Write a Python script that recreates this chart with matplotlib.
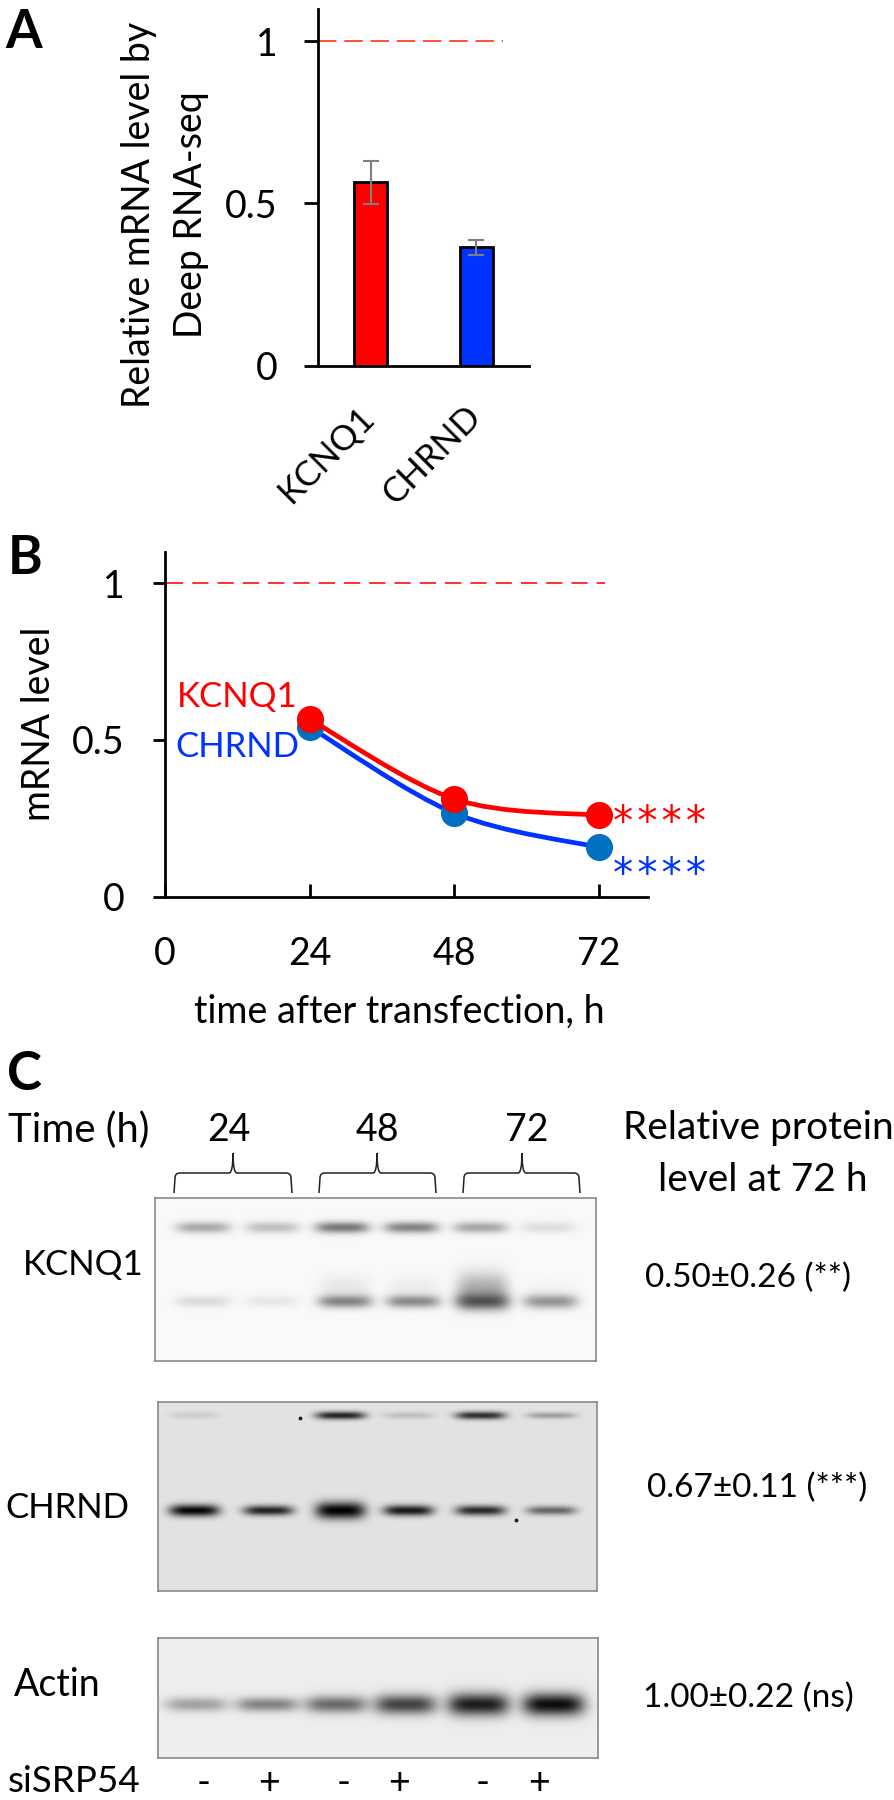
import matplotlib
matplotlib.use("Agg")
import matplotlib.pyplot as plt
import numpy as np
from matplotlib.patches import PathPatch
from matplotlib.path import Path

plt.rcParams["font.family"] = ["Lato", "DejaVu Sans"]

W, H = 895, 1800

# panel A
genes = ["KCNQ1", "CHRND"]
seq_values = [0.566, 0.366]
seq_err_low = [0.066, 0.023]
seq_err_high = [0.064, 0.022]
seq_colors = ["#ff0000", "#0033ff"]

# panel B
hours = [24, 48, 72]
kcnq1_mrna = [0.566, 0.312, 0.26]
chrnd_mrna = [0.541, 0.267, 0.158]

# panel C, band darkness per lane (0 = none, 1 = black)
time_groups = ["24", "48", "72"]
sirna = ["-", "+", "-", "+", "-", "+"]
protein_labels = ["0.50±0.26 (**)", "0.67±0.11 (***)", "1.00±0.22 (ns)"]
kcnq1_upper = [0.32, 0.23, 0.52, 0.47, 0.33, 0.11]
kcnq1_lower = [0.12, 0.07, 0.46, 0.44, 0.62, 0.40]
kcnq1_smear = [0.0, 0.0, 0.07, 0.05, 0.30, 0.02]
chrnd_main = [0.98, 0.85, 1.0, 0.9, 0.82, 0.55]
chrnd_upper = [0.10, 0.0, 0.85, 0.16, 0.80, 0.30]
actin_main = [0.32, 0.45, 0.55, 0.72, 0.88, 0.95]


def axes_px(left, top, right, bottom):
    return fig.add_axes([left / W, 1 - bottom / H, (right - left) / W, (bottom - top) / H])


def smooth_path(xs, ys):
    # same kind of smoothing Excel does on a line series
    pts = np.column_stack([xs, ys])
    verts = [pts[0]]
    codes = [Path.MOVETO]
    for i in range(len(pts) - 1):
        before = pts[max(i - 1, 0)]
        after = pts[min(i + 2, len(pts) - 1)]
        verts += [pts[i] + (pts[i + 1] - before) / 6, pts[i + 1] - (after - pts[i]) / 6, pts[i + 1]]
        codes += [Path.CURVE4, Path.CURVE4, Path.CURVE4]
    return Path(verts, codes)


def brace(ax, left, right, tip, y_tip=1153, y_mid=1173, y_end=1193):
    r = 5
    verts = [(left, y_end), (left + 1, y_mid + r),
             (left + 1, y_mid), (left + r + 1, y_mid),
             (tip - 4, y_mid),
             (tip, y_mid), (tip, y_tip),
             (tip, y_mid), (tip + 4, y_mid),
             (right - r - 1, y_mid),
             (right - 1, y_mid), (right - 1, y_mid + r),
             (right, y_end)]
    codes = [Path.MOVETO, Path.LINETO,
             Path.CURVE3, Path.CURVE3,
             Path.LINETO,
             Path.CURVE3, Path.CURVE3,
             Path.CURVE3, Path.CURVE3,
             Path.LINETO,
             Path.CURVE3, Path.CURVE3,
             Path.LINETO]
    ax.add_patch(PathPatch(Path(verts, codes), fc="none", ec="#222222", lw=1.1))


def band(xx, yy, cx, cy, width, sigma):
    return np.exp(-(np.abs(xx - cx) / (width / 2)) ** 4) * np.exp(-((yy - cy) ** 2) / (2 * sigma ** 2))


def draw_blot(box, background, rows, specks=()):
    left, top, right, bottom = box
    ax = axes_px(left, top, right, bottom)
    y, x = np.mgrid[top:bottom, left:right]
    img = np.full(x.shape, background, dtype=float)
    for levels, centers, width, cy, sigmas in rows:
        for lane, level in enumerate(levels):
            img *= 1 - level * band(x, y, centers[lane], cy, width, sigmas[lane])
    ax.imshow(img, cmap="gray", vmin=0, vmax=1, extent=(left, right, bottom, top), aspect="auto",
              interpolation="bilinear")
    for sx, sy in specks:
        ax.plot(sx, sy, "o", ms=1.8, color="#222222")
    ax.set_xlim(left, right)
    ax.set_ylim(bottom, top)
    ax.set_xticks([])
    ax.set_yticks([])
    for s in ax.spines.values():
        s.set_color("#808080")
        s.set_linewidth(1.1)
    return ax


fig = plt.figure(figsize=(W / 100, H / 100), dpi=100)

# overlay in pixel coordinates for the free text and braces
page = fig.add_axes([0, 0, 1, 1], zorder=5)
page.set_xlim(0, W)
page.set_ylim(H, 0)
page.axis("off")

# ---- A ----
ax_a = axes_px(318, 9, 529, 366)
ax_a.bar(range(2), seq_values, width=0.315, color=seq_colors, edgecolor="black", linewidth=2, zorder=2)
ax_a.errorbar(range(2), seq_values, yerr=[seq_err_low, seq_err_high], fmt="none", ecolor="#7f7f7f",
              elinewidth=1.5, capsize=5.8, capthick=1.5, zorder=3)
ax_a.plot([-0.5, 1.255], [1, 1], color="#ff5030", lw=1.4, dashes=(9.5, 4), zorder=1)
ax_a.set_xlim(-0.498, 1.5)
ax_a.set_ylim(0, 357 / 325)
ax_a.set_yticks([0, 0.5, 1], ["0", "0.5", "1"])
ax_a.set_xticks([])
ax_a.tick_params(axis="y", length=10, width=2, pad=19, labelsize=27)
ax_a.set_ylabel("Relative mRNA level by\nDeep RNA-seq", fontsize=27, linespacing=1.55, va="center", ha="center",
                multialignment="center")
ax_a.yaxis.set_label_coords((165 - 318) / 211, (366 - 215) / 357)
for s in ["top", "right"]:
    ax_a.spines[s].set_visible(False)
for s in ["left", "bottom"]:
    ax_a.spines[s].set_linewidth(2)
page.text(327, 455, genes[0], rotation=45, ha="center", va="center", fontsize=25, rotation_mode="anchor")
page.text(432, 455, genes[1], rotation=45, ha="center", va="center", fontsize=25, rotation_mode="anchor")

# ---- B ----
ax_b = axes_px(165, 552, 648, 897)
ax_b.plot([0.4, 73], [1, 1], color="#ff2020", lw=1.3, dashes=(9, 5), zorder=1)
ax_b.add_patch(PathPatch(smooth_path(hours, chrnd_mrna), fc="none", ec="#0033ff", lw=3.4, zorder=2))
ax_b.plot(hours, chrnd_mrna, "o", ms=18.5, color="#0070c0", zorder=3)
ax_b.add_patch(PathPatch(smooth_path(hours, kcnq1_mrna), fc="none", ec="#ff0000", lw=3.4, zorder=4))
ax_b.plot(hours, kcnq1_mrna, "o", ms=18.5, color="#ff0000", zorder=5)
ax_b.set_xlim(0, 80.1)
ax_b.set_ylim(0, 345 / 314)
ax_b.set_yticks([0, 0.5, 1], ["0", "0.5", "1"])
ax_b.set_xticks([0, 24, 48, 72], ["0", "24", "48", "72"])
ax_b.tick_params(axis="y", length=9, width=2, pad=20, labelsize=27)
ax_b.tick_params(axis="x", direction="in", length=9.4, width=2, pad=28, labelsize=27)
ax_b.set_xlabel("time after transfection, h", fontsize=27.2, va="center")
ax_b.xaxis.set_label_coords((399 - 165) / 483, -(1012 - 897) / 345)
ax_b.set_ylabel("mRNA level", fontsize=27, va="center")
ax_b.yaxis.set_label_coords((39 - 165) / 483, (897 - 724) / 345)
for s in ["top", "right"]:
    ax_b.spines[s].set_visible(False)
for s in ["left", "bottom"]:
    ax_b.spines[s].set_linewidth(2)
page.text(237, 697, genes[0], color="#ff0000", ha="center", va="center", fontsize=25)
page.text(237, 747, genes[1], color="#0033ff", ha="center", va="center", fontsize=25)
stars = "*\u200a*\u200a*\u200a*"
page.text(613, 824, stars, color="#ff0000", family="DejaVu Sans", ha="left", va="center", fontsize=29)
page.text(613, 876, stars, color="#0033ff", family="DejaVu Sans", ha="left", va="center", fontsize=29)

# ---- C ----
chrnd_lanes = [194, 268, 340, 408, 480, 551]
draw_blot((155, 1198, 596, 1361), 0.975, [
    (kcnq1_upper, [203, 272, 342, 411, 480, 548], 54, 1227, [4] * 6),
    (kcnq1_lower, [203, 272, 345, 413, 482, 550], 54, 1301, [4, 4, 4.5, 4.5, 6, 5]),
    (kcnq1_smear, [203, 272, 345, 413, 482, 550], 52, 1288, [9, 9, 9, 8, 11, 7]),
])
draw_blot((158, 1402, 597, 1591), 0.89, [
    (chrnd_upper, chrnd_lanes, 50, 1415, [2.5, 2.5, 2.8, 2.5, 2.8, 2.3]),
    (chrnd_main, chrnd_lanes, 50, 1510, [4.2, 3.6, 6, 3.8, 3.6, 3.2]),
], specks=[(300, 1418), (516, 1520)])
draw_blot((158, 1638, 598, 1758), 0.93, [
    (actin_main, [196, 267, 336, 405, 478, 553], 62, 1704, [5, 5, 6, 7, 8, 8]),
])

page.text(5, 33, "A", fontsize=38, fontweight="bold", va="center")
page.text(8, 558, "B", fontsize=38, fontweight="bold", va="center")
page.text(7, 1075, "C", fontsize=38, fontweight="bold", va="center")
page.text(8, 1130, "Time (h)", fontsize=28.8, va="center")
for label, x in zip(time_groups, [229, 377, 527]):
    page.text(x, 1130, label, fontsize=27, ha="center", va="center")
brace(page, 174, 292, 233)
brace(page, 319, 436, 377)
brace(page, 463, 580, 522)
page.text(758, 1128, "Relative protein", fontsize=28, ha="center", va="center")
page.text(763, 1180, "level at 72 h", fontsize=28, ha="center", va="center")
for label, x, y in zip(protein_labels, [748, 757, 748], [1278, 1488, 1698]):
    page.text(x, y, label, fontsize=24, ha="center", va="center")
page.text(23, 1265, "KCNQ1", fontsize=25, va="center")
page.text(5, 1508, "CHRND", fontsize=25, va="center")
page.text(14, 1685, "Actin", fontsize=27, va="center")
page.text(8, 1782, "siSRP54", fontsize=26.5, va="center")
for label, x in zip(sirna, [204, 269, 344, 399, 483, 539]):
    page.text(x, 1783, label, fontsize=27, ha="center", va="center")

fig.savefig("out.png", dpi=100)
